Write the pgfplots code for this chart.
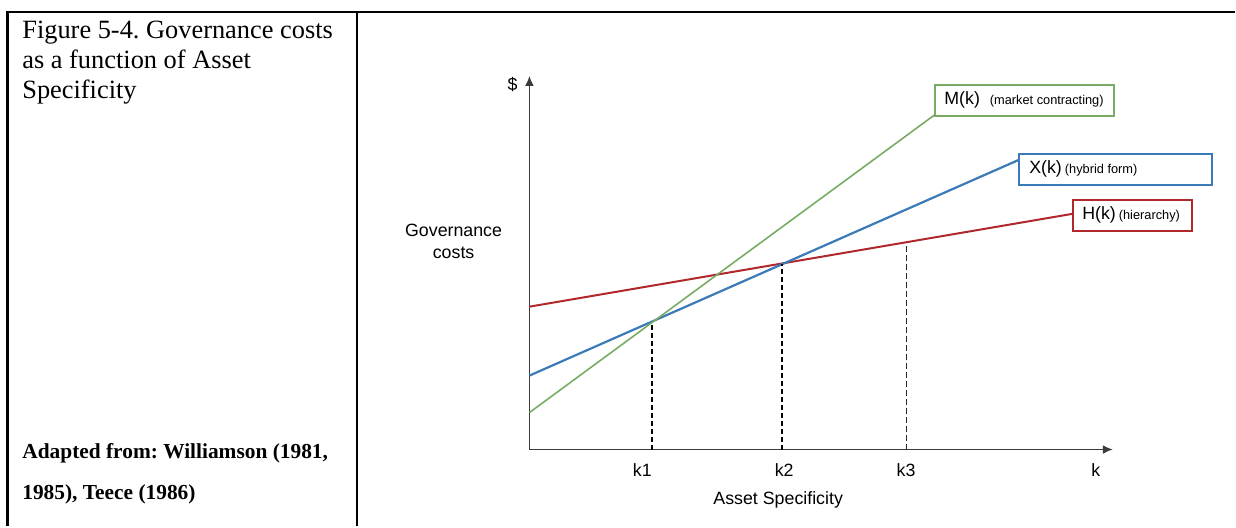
\documentclass[border=0pt]{standalone}
\usepackage{pgfplots}
\pgfplotsset{compat=1.18}
\usepackage{fontspec}
\setmainfont{Liberation Sans}
\newfontfamily\timesfont{Liberation Serif}
\usetikzlibrary{arrows.meta}
\definecolor{mgreen}{RGB}{120,172,100}
\definecolor{xblue}{RGB}{58,122,185}
\definecolor{hred}{RGB}{176,40,44}
\definecolor{axgray}{RGB}{60,60,60}
\newcommand{\lab}{\fontsize{8.9}{11}\selectfont}
\newcommand{\sml}{\fontsize{6.4}{7}\selectfont}
\frenchspacing
\begin{document}
\frenchspacing
\begin{tikzpicture}
\begin{axis}[
  x=0.5pt, y=0.5pt,
  xmin=530, xmax=1114, ymin=77, ymax=451,
  axis lines=left,
  axis line style={axgray, line width=0.7pt, -{Latex[length=5pt,width=4.4pt]}},
  clip=false,
  xtick={643,785,907,1097},
  xticklabels={k1,k2,k3,k},
  ytick=\empty,
  major tick length=0pt,
  xticklabel style={font=\lab, yshift=-3.5pt},
  xlabel={Asset Specificity},
  xlabel style={at={(axis description cs:0.4264,-0.134)}, anchor=center, font=\lab},
  ylabel={Governance\\costs},
  ylabel style={rotate=-90, at={(axis description cs:-0.130,0.556)}, anchor=center, align=center, font=\lab},
]
% frame and bounding box
\path (axis cs:0,0) rectangle (axis cs:1236,527);
\draw[line width=1.3pt] (axis cs:7.5,0) -- (axis cs:7.5,515) -- (axis cs:1236,515);
\draw[line width=1.1pt] (axis cs:357,0) -- (axis cs:357,515);
% left cell text
\node[anchor=base west, inner sep=0pt, font=\timesfont\fontsize{13.2}{15}\selectfont] at (axis cs:22,488) {Figure 5-4. Governance costs};
\node[anchor=base west, inner sep=0pt, font=\timesfont\fontsize{13.2}{15}\selectfont] at (axis cs:22,458) {as a function of Asset};
\node[anchor=base west, inner sep=0pt, font=\timesfont\fontsize{13.2}{15}\selectfont] at (axis cs:22,428) {Specificity};
\node[anchor=base west, inner sep=0pt, font=\timesfont\bfseries\fontsize{10.7}{12}\selectfont] at (axis cs:22,68) {Adapted from: Williamson (1981,};
\node[anchor=base west, inner sep=0pt, font=\timesfont\bfseries\fontsize{10.7}{12}\selectfont] at (axis cs:22,27) {1985), Teece (1986)};
% dollar sign
\node[font=\lab] at (axis cs:513,442) {\$};
% curves
\addplot[hred, line width=1pt] coordinates {(530,220) (1074,313)};
\addplot[xblue, line width=1.1pt] coordinates {(530,151) (1020,367)};
\addplot[mgreen, line width=0.8pt] coordinates {(530,114) (937,413)};
% dashed verticals
\addplot[black, dash pattern=on 2.5pt off 1.5pt, line width=0.9pt] coordinates {(653,77) (653,205)};
\addplot[black, dash pattern=on 2.5pt off 1.5pt, line width=0.9pt] coordinates {(783,77) (783,263)};
\addplot[black!85, dash pattern=on 3pt off 1.5pt, line width=0.6pt] coordinates {(907.5,77) (907.5,284)};
% label boxes
\draw[mgreen, line width=0.9pt, fill=white] (axis cs:936,411) rectangle (axis cs:1115,442);
\node[anchor=west, inner sep=0pt] at (axis cs:945,426.5) {\lab M(k)\hspace{5pt}\sml(market contracting)};
\draw[xblue, line width=0.9pt, fill=white] (axis cs:1020,342) rectangle (axis cs:1213,373);
\node[anchor=west, inner sep=0pt] at (axis cs:1030,357.5) {\lab X(k)\hspace{1.5pt}\sml(hybrid form)};
\draw[hred, line width=0.9pt, fill=white] (axis cs:1074,296) rectangle (axis cs:1193,327);
\node[anchor=west, inner sep=0pt] at (axis cs:1083,311.5) {\lab H(k)\hspace{1.5pt}\sml(hierarchy)};
\end{axis}
\end{tikzpicture}
\end{document}
